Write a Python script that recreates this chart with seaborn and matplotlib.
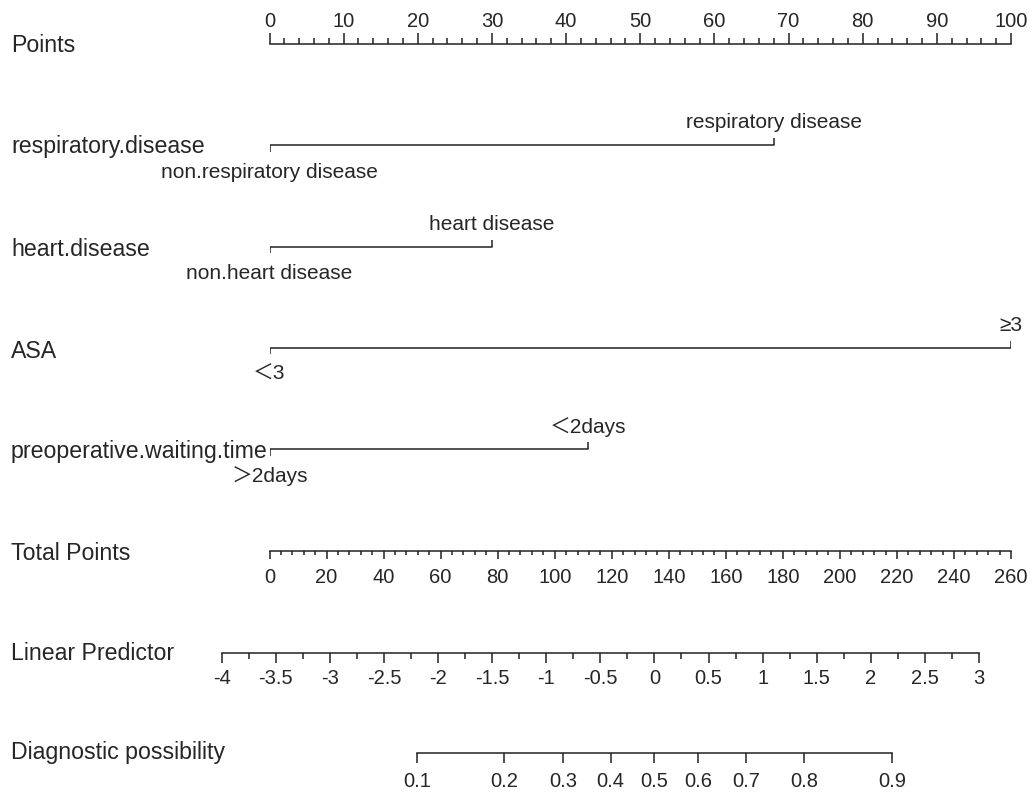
import numpy as np
import pandas as pd
import matplotlib
matplotlib.use("Agg")
import matplotlib.pyplot as plt
import seaborn as sns
from matplotlib.ticker import NullLocator, FixedLocator

# ---------------- data ----------------
point_ticks = [0, 10, 20, 30, 40, 50, 60, 70, 80, 90, 100]
variables = ["respiratory.disease", "heart.disease", "ASA", "preoperative.waiting.time"]
level_low = ["non.respiratory disease", "non.heart disease", "\uFF1C3", "\uFF1E2days"]
level_high = ["respiratory disease", "heart disease", "\u22653", "\uFF1C2days"]
low_points = [0, 0, 0, 0]
high_points = [68, 30, 100, 43]
total_ticks = [0, 20, 40, 60, 80, 100, 120, 140, 160, 180, 200, 220, 240, 260]
lp_ticks = [-4, -3.5, -3, -2.5, -2, -1.5, -1, -0.5, 0, 0.5, 1, 1.5, 2, 2.5, 3]
lp_tick_labels = ["-4", "-3.5", "-3", "-2.5", "-2", "-1.5", "-1", "-0.5", "0", "0.5", "1", "1.5", "2", "2.5", "3"]
prob_ticks = [0.1, 0.2, 0.3, 0.4, 0.5, 0.6, 0.7, 0.8, 0.9]
prob_tick_labels = ["0.1", "0.2", "0.3", "0.4", "0.5", "0.6", "0.7", "0.8", "0.9"]

# ---------------- style ----------------
sns.set_theme(style="white")
FONT = ["Liberation Sans", "Noto Sans CJK SC", "DejaVu Sans"]
plt.rcParams["font.family"] = FONT
TXT = "#262626"
LINE = "#222222"
LW = 1.1
ROW_FS = 16.7
LEVEL_FS = 15
TICK_FS = 14.5

W, H = 1032, 793
fig = plt.figure(figsize=(W / 100, H / 100), dpi=100)
fig.patch.set_facecolor("white")

X0, X1 = 269.5, 1011.0      # points / total points span (px)
LX0, LX1 = 221.7, 979.0     # linear predictor span (px)


def rect(x0, x1, ybot, ytop):
    return [x0 / W, 1 - ybot / H, (x1 - x0) / W, (ybot - ytop) / H]


def scale_axis(x0, x1, yline, side):
    h = 20
    if side == "top":
        ax = fig.add_axes(rect(x0, x1, yline + h, yline))
    else:
        ax = fig.add_axes(rect(x0, x1, yline, yline - h))
    ax.patch.set_visible(False)
    for s in ["left", "right", "top", "bottom"]:
        ax.spines[s].set_visible(s == side)
    ax.spines[side].set_color(LINE)
    ax.spines[side].set_linewidth(LW)
    ax.set_yticks([])
    if side == "top":
        ax.xaxis.tick_top()
    else:
        ax.xaxis.tick_bottom()
    ax.tick_params(axis="x", which="both", direction="out", colors=LINE,
                   labelcolor=TXT, labelsize=TICK_FS, width=LW)
    ax.grid(False)
    return ax


# Points axis (ticks and labels above)
axp = scale_axis(X0, X1, 44.3, "top")
axp.set_xlim(0, 100)
axp.xaxis.set_major_locator(FixedLocator(point_ticks))
axp.xaxis.set_minor_locator(FixedLocator(list(range(0, 101, 2))))
axp.set_xticklabels([str(t) for t in point_ticks])
axp.tick_params(axis="x", which="major", length=8, pad=1.5)
axp.tick_params(axis="x", which="minor", length=4)

# Variable rows
line_y = [145.0, 246.7, 347.7, 449.3]
seg = pd.DataFrame({
    "variable": np.repeat(variables, 2),
    "points": np.ravel(np.column_stack([low_points, high_points])),
})
for i, var in enumerate(variables):
    yl = line_y[i]
    ax = fig.add_axes(rect(X0, X1, yl + 40, yl - 40))
    ax.patch.set_visible(False)
    ax.set_xlim(0, 100)
    ax.set_ylim(-40, 40)
    sub = seg[seg["variable"] == var].assign(y=0.0)
    sns.lineplot(data=sub, x="points", y="y", ax=ax, color=LINE, lw=LW,
                 estimator=None, sort=False, legend=False)
    lo, hi = low_points[i], high_points[i]
    ax.plot([lo, lo], [0, -6.5], color=LINE, lw=LW, solid_capstyle="butt")
    ax.plot([hi, hi], [0, 7], color=LINE, lw=LW, solid_capstyle="butt")
    ax.text(hi, 22, level_high[i], ha="center", va="center", fontsize=LEVEL_FS, color=TXT)
    ax.text(lo, -27, level_low[i], ha="center", va="center", fontsize=LEVEL_FS, color=TXT)
    ax.set_axis_off()

# Total points axis
axt = scale_axis(X0, X1, 551.0, "bottom")
axt.set_xlim(0, 260)
axt.xaxis.set_major_locator(FixedLocator(total_ticks))
axt.xaxis.set_minor_locator(FixedLocator(list(range(0, 261, 4))))
axt.set_xticklabels([str(t) for t in total_ticks])
axt.tick_params(axis="x", which="major", length=6, pad=6)
axt.tick_params(axis="x", which="minor", length=3)

# Linear predictor axis
axl = scale_axis(LX0, LX1, 652.7, "bottom")
axl.set_xlim(-4, 3)
axl.xaxis.set_major_locator(FixedLocator(lp_ticks))
axl.xaxis.set_minor_locator(FixedLocator(list(np.arange(-4, 3.01, 0.25))))
axl.set_xticklabels(lp_tick_labels)
axl.tick_params(axis="x", which="major", length=7, pad=5)
axl.tick_params(axis="x", which="minor", length=4)

# Diagnostic possibility axis (logistic scale of the linear predictor)
axd = scale_axis(LX0, LX1, 752.7, "bottom")
axd.set_xscale("logit")
axd.set_xlim(1 / (1 + np.exp(4)), 1 / (1 + np.exp(-3)))
axd.spines["bottom"].set_bounds(prob_ticks[0], prob_ticks[-1])
axd.xaxis.set_major_locator(FixedLocator(prob_ticks))
axd.xaxis.set_minor_locator(NullLocator())
axd.set_xticklabels(prob_tick_labels)
axd.tick_params(axis="x", which="major", length=7, pad=7)

# Row labels
row_labels = ["Points"] + variables + ["Total Points", "Linear Predictor", "Diagnostic possibility"]
row_y = [45.0, 146.7, 250.0, 351.7, 451.7, 553.0, 653.0, 753.0]
for lab, yy in zip(row_labels, row_y):
    fig.text(11 / W, 1 - yy / H, lab, ha="left", va="center", fontsize=ROW_FS, color=TXT)

fig.savefig("out.png", dpi=100, facecolor="white")
